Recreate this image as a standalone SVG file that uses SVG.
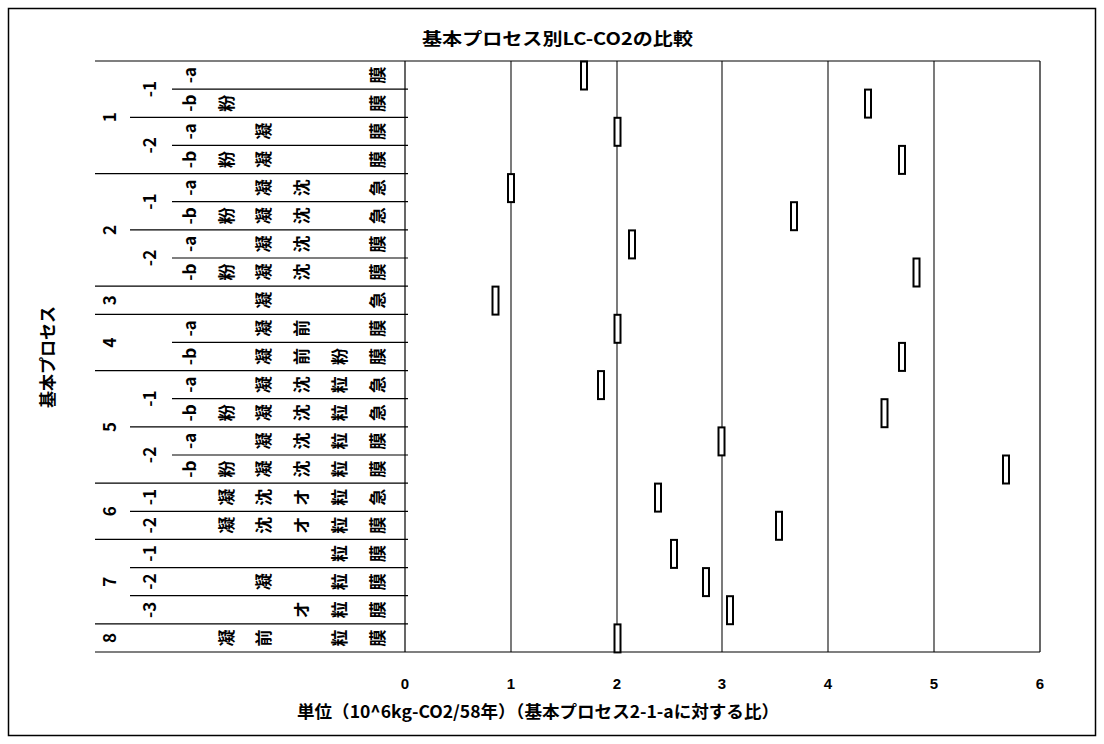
<svg xmlns="http://www.w3.org/2000/svg" width="1104" height="744" viewBox="0 0 1104 744">
<style>
.t{font-family:"Noto Sans CJK JP","Liberation Sans",sans-serif;font-weight:bold;font-size:17px;text-anchor:middle;dominant-baseline:central;fill:#000}
.n{font-family:"Liberation Sans","Noto Sans CJK JP",sans-serif;font-weight:bold;font-size:15px;text-anchor:middle;fill:#000}
.ttl{font-family:"Noto Sans CJK JP",sans-serif;font-weight:bold;font-size:17px;fill:#000}
.ln{stroke:#000;stroke-width:1.2;fill:none}
.gr{stroke:#333;stroke-width:1.3;fill:none}
.bar{fill:#fff;stroke:#000;stroke-width:2}
</style>
<rect x="8.5" y="8.5" width="1087" height="727" fill="#fff" stroke="#000" stroke-width="1.5"/>
<text class="ttl" x="422" y="45" textLength="271" lengthAdjust="spacingAndGlyphs">基本プロセス別LC-CO2の比較</text>
<text class="ttl" transform="translate(46 357) rotate(-90)" text-anchor="middle" dominant-baseline="central">基本プロセス</text>
<text class="ttl" x="297" y="718" textLength="482" lengthAdjust="spacingAndGlyphs">単位（10^6kg-CO2/58年）（基本プロセス2-1-aに対する比）</text>
<g id="axis-labels">
<text class="n" x="405" y="689">0</text>
<text class="n" x="511" y="689">1</text>
<text class="n" x="617" y="689">2</text>
<text class="n" x="722" y="689">3</text>
<text class="n" x="828" y="689">4</text>
<text class="n" x="934" y="689">5</text>
<text class="n" x="1040" y="689">6</text>
</g>
<g id="grid">
<line class="gr" x1="511" y1="61" x2="511" y2="652"/>
<line class="gr" x1="617" y1="61" x2="617" y2="652"/>
<line class="gr" x1="722" y1="61" x2="722" y2="652"/>
<line class="gr" x1="828" y1="61" x2="828" y2="652"/>
<line class="gr" x1="934" y1="61" x2="934" y2="652"/>
<line class="ln" x1="1040" y1="61" x2="1040" y2="652"/>
<line class="ln" x1="405" y1="61" x2="405" y2="652" stroke-width="1.5"/>
<line class="ln" x1="95" y1="61" x2="1040" y2="61" stroke-width="1.5"/>
<line class="ln" x1="95" y1="652" x2="1040" y2="652" stroke-width="1.5"/>
</g>
<g id="table-lines">
<line class="ln" x1="172" y1="89.14" x2="408" y2="89.14"/>
<line class="ln" x1="130" y1="117.29" x2="408" y2="117.29"/>
<line class="ln" x1="172" y1="145.43" x2="408" y2="145.43"/>
<line class="ln" x1="95" y1="173.57" x2="408" y2="173.57"/>
<line class="ln" x1="172" y1="201.71" x2="408" y2="201.71"/>
<line class="ln" x1="130" y1="229.86" x2="408" y2="229.86"/>
<line class="ln" x1="172" y1="258" x2="408" y2="258"/>
<line class="ln" x1="95" y1="286.14" x2="408" y2="286.14"/>
<line class="ln" x1="95" y1="314.29" x2="408" y2="314.29"/>
<line class="ln" x1="172" y1="342.43" x2="408" y2="342.43"/>
<line class="ln" x1="95" y1="370.57" x2="408" y2="370.57"/>
<line class="ln" x1="172" y1="398.71" x2="408" y2="398.71"/>
<line class="ln" x1="130" y1="426.86" x2="408" y2="426.86"/>
<line class="ln" x1="172" y1="455" x2="408" y2="455"/>
<line class="ln" x1="95" y1="483.14" x2="408" y2="483.14"/>
<line class="ln" x1="130" y1="511.29" x2="408" y2="511.29"/>
<line class="ln" x1="95" y1="539.43" x2="408" y2="539.43"/>
<line class="ln" x1="130" y1="567.57" x2="408" y2="567.57"/>
<line class="ln" x1="130" y1="595.71" x2="408" y2="595.71"/>
<line class="ln" x1="95" y1="623.86" x2="408" y2="623.86"/>
</g>
<g id="group-labels">
<text class="t" transform="translate(108 117.29) rotate(-90)">1</text>
<text class="t" transform="translate(108 229.86) rotate(-90)">2</text>
<text class="t" transform="translate(108 300.21) rotate(-90)">3</text>
<text class="t" transform="translate(108 342.43) rotate(-90)">4</text>
<text class="t" transform="translate(108 426.86) rotate(-90)">5</text>
<text class="t" transform="translate(108 511.29) rotate(-90)">6</text>
<text class="t" transform="translate(108 581.64) rotate(-90)">7</text>
<text class="t" transform="translate(108 637.93) rotate(-90)">8</text>
</g>
<g id="sub-labels">
<text class="t" transform="translate(148 89.14) rotate(-90)">-1</text>
<text class="t" transform="translate(148 145.43) rotate(-90)">-2</text>
<text class="t" transform="translate(148 201.71) rotate(-90)">-1</text>
<text class="t" transform="translate(148 258) rotate(-90)">-2</text>
<text class="t" transform="translate(148 398.71) rotate(-90)">-1</text>
<text class="t" transform="translate(148 455) rotate(-90)">-2</text>
<text class="t" transform="translate(148 497.21) rotate(-90)">-1</text>
<text class="t" transform="translate(148 525.36) rotate(-90)">-2</text>
<text class="t" transform="translate(148 553.5) rotate(-90)">-1</text>
<text class="t" transform="translate(148 581.64) rotate(-90)">-2</text>
<text class="t" transform="translate(148 609.79) rotate(-90)">-3</text>
</g>
<g id="ab-labels">
<text class="t" transform="translate(188 75.07) rotate(-90)">-a</text>
<text class="t" transform="translate(188 103.21) rotate(-90)">-b</text>
<text class="t" transform="translate(188 131.36) rotate(-90)">-a</text>
<text class="t" transform="translate(188 159.5) rotate(-90)">-b</text>
<text class="t" transform="translate(188 187.64) rotate(-90)">-a</text>
<text class="t" transform="translate(188 215.79) rotate(-90)">-b</text>
<text class="t" transform="translate(188 243.93) rotate(-90)">-a</text>
<text class="t" transform="translate(188 272.07) rotate(-90)">-b</text>
<text class="t" transform="translate(188 328.36) rotate(-90)">-a</text>
<text class="t" transform="translate(188 356.5) rotate(-90)">-b</text>
<text class="t" transform="translate(188 384.64) rotate(-90)">-a</text>
<text class="t" transform="translate(188 412.79) rotate(-90)">-b</text>
<text class="t" transform="translate(188 440.93) rotate(-90)">-a</text>
<text class="t" transform="translate(188 469.07) rotate(-90)">-b</text>
</g>
<g id="process-cells">
<text class="t" transform="translate(376 75.07) rotate(-90)">膜</text>
<text class="t" transform="translate(225 103.21) rotate(-90)">粉</text>
<text class="t" transform="translate(376 103.21) rotate(-90)">膜</text>
<text class="t" transform="translate(262 131.36) rotate(-90)">凝</text>
<text class="t" transform="translate(376 131.36) rotate(-90)">膜</text>
<text class="t" transform="translate(225 159.5) rotate(-90)">粉</text>
<text class="t" transform="translate(262 159.5) rotate(-90)">凝</text>
<text class="t" transform="translate(376 159.5) rotate(-90)">膜</text>
<text class="t" transform="translate(262 187.64) rotate(-90)">凝</text>
<text class="t" transform="translate(300 187.64) rotate(-90)">沈</text>
<text class="t" transform="translate(376 187.64) rotate(-90)">急</text>
<text class="t" transform="translate(225 215.79) rotate(-90)">粉</text>
<text class="t" transform="translate(262 215.79) rotate(-90)">凝</text>
<text class="t" transform="translate(300 215.79) rotate(-90)">沈</text>
<text class="t" transform="translate(376 215.79) rotate(-90)">急</text>
<text class="t" transform="translate(262 243.93) rotate(-90)">凝</text>
<text class="t" transform="translate(300 243.93) rotate(-90)">沈</text>
<text class="t" transform="translate(376 243.93) rotate(-90)">膜</text>
<text class="t" transform="translate(225 272.07) rotate(-90)">粉</text>
<text class="t" transform="translate(262 272.07) rotate(-90)">凝</text>
<text class="t" transform="translate(300 272.07) rotate(-90)">沈</text>
<text class="t" transform="translate(376 272.07) rotate(-90)">膜</text>
<text class="t" transform="translate(262 300.21) rotate(-90)">凝</text>
<text class="t" transform="translate(376 300.21) rotate(-90)">急</text>
<text class="t" transform="translate(262 328.36) rotate(-90)">凝</text>
<text class="t" transform="translate(300 328.36) rotate(-90)">前</text>
<text class="t" transform="translate(376 328.36) rotate(-90)">膜</text>
<text class="t" transform="translate(262 356.5) rotate(-90)">凝</text>
<text class="t" transform="translate(300 356.5) rotate(-90)">前</text>
<text class="t" transform="translate(338 356.5) rotate(-90)">粉</text>
<text class="t" transform="translate(376 356.5) rotate(-90)">膜</text>
<text class="t" transform="translate(262 384.64) rotate(-90)">凝</text>
<text class="t" transform="translate(300 384.64) rotate(-90)">沈</text>
<text class="t" transform="translate(338 384.64) rotate(-90)">粒</text>
<text class="t" transform="translate(376 384.64) rotate(-90)">急</text>
<text class="t" transform="translate(225 412.79) rotate(-90)">粉</text>
<text class="t" transform="translate(262 412.79) rotate(-90)">凝</text>
<text class="t" transform="translate(300 412.79) rotate(-90)">沈</text>
<text class="t" transform="translate(338 412.79) rotate(-90)">粒</text>
<text class="t" transform="translate(376 412.79) rotate(-90)">急</text>
<text class="t" transform="translate(262 440.93) rotate(-90)">凝</text>
<text class="t" transform="translate(300 440.93) rotate(-90)">沈</text>
<text class="t" transform="translate(338 440.93) rotate(-90)">粒</text>
<text class="t" transform="translate(376 440.93) rotate(-90)">膜</text>
<text class="t" transform="translate(225 469.07) rotate(-90)">粉</text>
<text class="t" transform="translate(262 469.07) rotate(-90)">凝</text>
<text class="t" transform="translate(300 469.07) rotate(-90)">沈</text>
<text class="t" transform="translate(338 469.07) rotate(-90)">粒</text>
<text class="t" transform="translate(376 469.07) rotate(-90)">膜</text>
<text class="t" transform="translate(225 497.21) rotate(-90)">凝</text>
<text class="t" transform="translate(262 497.21) rotate(-90)">沈</text>
<text class="t" transform="translate(300 497.21) rotate(-90)">オ</text>
<text class="t" transform="translate(338 497.21) rotate(-90)">粒</text>
<text class="t" transform="translate(376 497.21) rotate(-90)">急</text>
<text class="t" transform="translate(225 525.36) rotate(-90)">凝</text>
<text class="t" transform="translate(262 525.36) rotate(-90)">沈</text>
<text class="t" transform="translate(300 525.36) rotate(-90)">オ</text>
<text class="t" transform="translate(338 525.36) rotate(-90)">粒</text>
<text class="t" transform="translate(376 525.36) rotate(-90)">膜</text>
<text class="t" transform="translate(338 553.5) rotate(-90)">粒</text>
<text class="t" transform="translate(376 553.5) rotate(-90)">膜</text>
<text class="t" transform="translate(262 581.64) rotate(-90)">凝</text>
<text class="t" transform="translate(338 581.64) rotate(-90)">粒</text>
<text class="t" transform="translate(376 581.64) rotate(-90)">膜</text>
<text class="t" transform="translate(300 609.79) rotate(-90)">オ</text>
<text class="t" transform="translate(338 609.79) rotate(-90)">粒</text>
<text class="t" transform="translate(376 609.79) rotate(-90)">膜</text>
<text class="t" transform="translate(225 637.93) rotate(-90)">凝</text>
<text class="t" transform="translate(262 637.93) rotate(-90)">前</text>
<text class="t" transform="translate(338 637.93) rotate(-90)">粒</text>
<text class="t" transform="translate(376 637.93) rotate(-90)">膜</text>
</g>
<g id="bars">
<rect class="bar" x="581" y="61.5" width="6" height="28"/>
<rect class="bar" x="865" y="89.6" width="6" height="28"/>
<rect class="bar" x="614.5" y="117.8" width="6" height="28"/>
<rect class="bar" x="899" y="145.9" width="6" height="28"/>
<rect class="bar" x="508" y="174.1" width="6" height="28"/>
<rect class="bar" x="791" y="202.2" width="6" height="28"/>
<rect class="bar" x="629" y="230.4" width="6" height="28"/>
<rect class="bar" x="913.5" y="258.5" width="6" height="28"/>
<rect class="bar" x="492.5" y="286.6" width="6" height="28"/>
<rect class="bar" x="614.5" y="314.8" width="6" height="28"/>
<rect class="bar" x="899" y="342.9" width="6" height="28"/>
<rect class="bar" x="598" y="371.1" width="6" height="28"/>
<rect class="bar" x="881.5" y="399.2" width="6" height="28"/>
<rect class="bar" x="718.5" y="427.4" width="6" height="28"/>
<rect class="bar" x="1003" y="455.5" width="6" height="28"/>
<rect class="bar" x="655" y="483.6" width="6" height="28"/>
<rect class="bar" x="776" y="511.8" width="6" height="28"/>
<rect class="bar" x="671" y="539.9" width="6" height="28"/>
<rect class="bar" x="703" y="568.1" width="6" height="28"/>
<rect class="bar" x="727" y="596.2" width="6" height="28"/>
<rect class="bar" x="614.5" y="624.4" width="6" height="28"/>
</g>
</svg>
